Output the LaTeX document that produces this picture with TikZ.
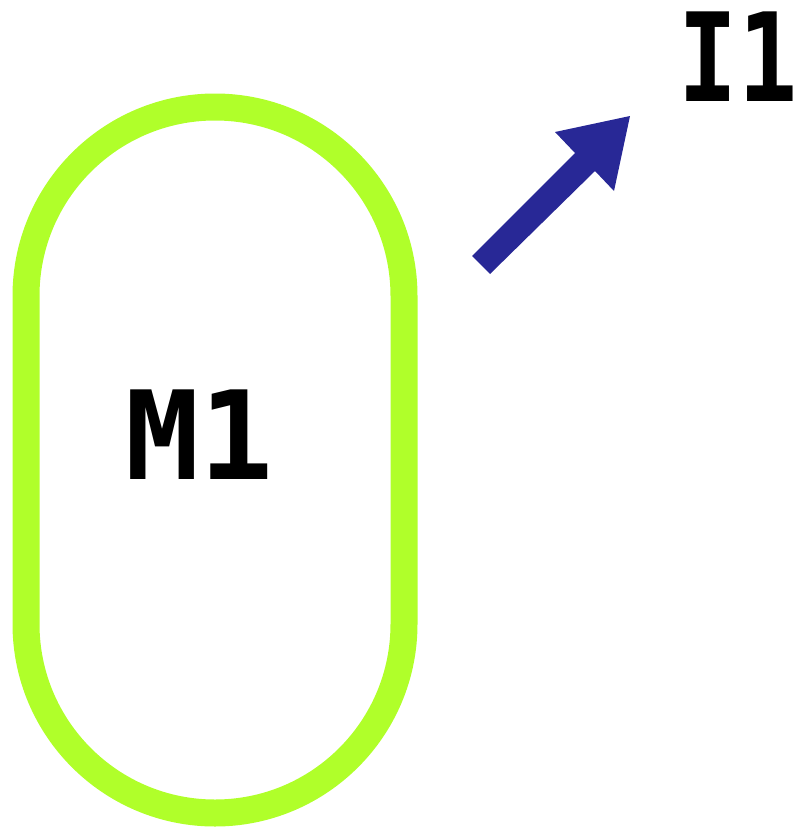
\documentclass[tikz,border=0pt]{standalone}
\usepackage{fontspec}
\setmainfont{DejaVu Sans Mono}
\definecolor{limeline}{RGB}{176,255,42}
\definecolor{navyfill}{RGB}{40,40,150}
\begin{document}
\begin{tikzpicture}[x=1pt,y=-1pt,
  lbl/.style={font=\fontsize{123}{123}\selectfont\bfseries, inner sep=0pt, text=black}]
\useasboundingbox (0,0) rectangle (798,827);
\draw[limeline, line width=27, rounded corners=189] (26,107) rectangle (404,813);
\node[lbl] (m1) at (200,435) {M1};
\node[lbl, xscale=0.8] (i1) at (738,57) {I1};
\fill[navyfill] (472,256) -- (575,153) -- (555,132) -- (630,116) -- (614,191) -- (595,171) -- (490,274) -- cycle;
\end{tikzpicture}
\end{document}
